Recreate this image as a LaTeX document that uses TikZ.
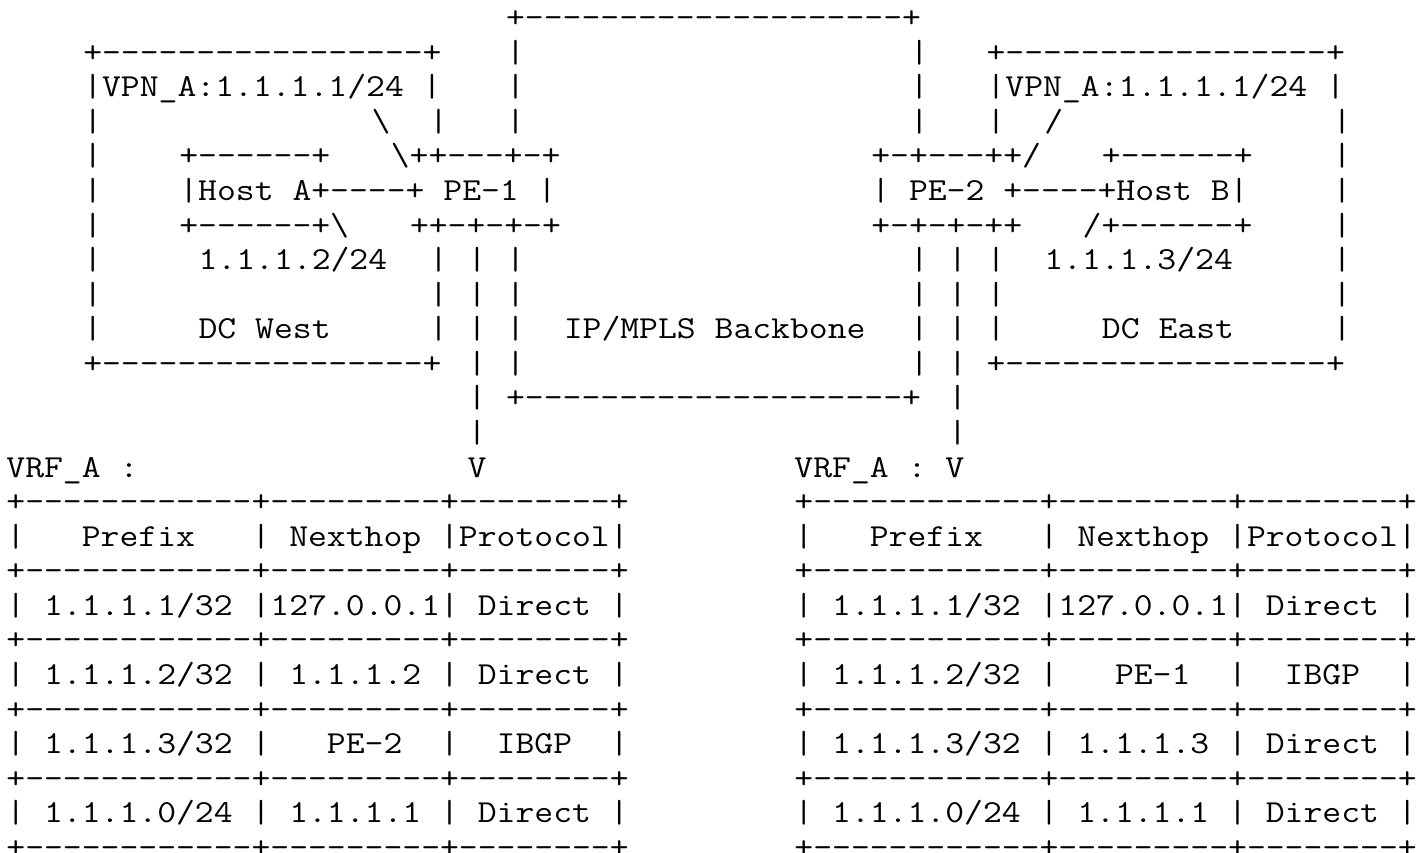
\documentclass[tikz,border=0pt]{standalone}
\usepackage{fontspec}
\usepackage{graphicx}
\frenchspacing
\tikzset{
  txt/.style={anchor=base west, inner sep=0pt, outer sep=0pt, font=\fontsize{16.02pt}{17pt}\ttfamily, text=black}
}
\newcommand\asc[3]{\node[txt] (r#1c#2) at ({6.4+19.22*#2},{27.6+34.57*#1}) {\scalebox{1.142857}[1]{#3}};}
\begin{document}
\begin{tikzpicture}[x=0.5pt,y=-0.5pt]
\useasboundingbox (0,0) rectangle (1427,852);
\fill[white] (0,0) rectangle (1427,852);
% row 0
\asc{0}{26}{+--------------------+}
% row 1
\asc{1}{4}{+-----------------+}
\asc{1}{26}{|}
\asc{1}{47}{|}
\asc{1}{51}{+-----------------+}
% row 2
\asc{2}{4}{|VPN\_A:1.1.1.1/24~|}
\asc{2}{26}{|}
\asc{2}{47}{|}
\asc{2}{51}{|VPN\_A:1.1.1.1/24~|}
% row 3
\asc{3}{4}{|}
\asc{3}{19}{\textbackslash}
\asc{3}{22}{|}
\asc{3}{26}{|}
\asc{3}{47}{|}
\asc{3}{51}{|}
\asc{3}{54}{/}
\asc{3}{69}{|}
% row 4
\asc{4}{4}{|}
\asc{4}{9}{+------+}
\asc{4}{20}{\textbackslash++---+-+}
\asc{4}{45}{+-+---++/}
\asc{4}{57}{+------+}
\asc{4}{69}{|}
% row 5
\asc{5}{4}{|}
\asc{5}{9}{|Host~A+----+~PE-1~|}
\asc{5}{45}{|~PE-2~+----+Host~B|}
\asc{5}{69}{|}
% row 6
\asc{6}{4}{|}
\asc{6}{9}{+------+\textbackslash}
\asc{6}{21}{++-+-+-+}
\asc{6}{45}{+-+-+-++}
\asc{6}{56}{/+------+}
\asc{6}{69}{|}
% row 7
\asc{7}{4}{|}
\asc{7}{10}{1.1.1.2/24}
\asc{7}{22}{|}
\asc{7}{24}{|}
\asc{7}{26}{|}
\asc{7}{47}{|}
\asc{7}{49}{|}
\asc{7}{51}{|}
\asc{7}{54}{1.1.1.3/24}
\asc{7}{69}{|}
% row 8
\asc{8}{4}{|}
\asc{8}{22}{|}
\asc{8}{24}{|}
\asc{8}{26}{|}
\asc{8}{47}{|}
\asc{8}{49}{|}
\asc{8}{51}{|}
\asc{8}{69}{|}
% row 9
\asc{9}{4}{|}
\asc{9}{10}{DC~West}
\asc{9}{22}{|}
\asc{9}{24}{|}
\asc{9}{26}{|}
\asc{9}{29}{IP/MPLS~Backbone}
\asc{9}{47}{|}
\asc{9}{49}{|}
\asc{9}{51}{|}
\asc{9}{57}{DC~East}
\asc{9}{69}{|}
% row 10
\asc{10}{4}{+-----------------+}
\asc{10}{24}{|}
\asc{10}{26}{|}
\asc{10}{47}{|}
\asc{10}{49}{|}
\asc{10}{51}{+-----------------+}
% row 11
\asc{11}{24}{|}
\asc{11}{26}{+--------------------+}
\asc{11}{49}{|}
% row 12
\asc{12}{24}{|}
\asc{12}{49}{|}
% row 13
\asc{13}{0}{VRF\_A~:}
\asc{13}{24}{V}
\asc{13}{41}{VRF\_A~:~V}
% left table
\asc{14}{0}{+------------+---------+--------+}
\asc{15}{0}{|~~~Prefix~~~|~Nexthop~|Protocol|}
\asc{16}{0}{+------------+---------+--------+}
\asc{17}{0}{|~1.1.1.1/32~|127.0.0.1|~Direct~|}
\asc{18}{0}{+------------+---------+--------+}
\asc{19}{0}{|~1.1.1.2/32~|~1.1.1.2~|~Direct~|}
\asc{20}{0}{+------------+---------+--------+}
\asc{21}{0}{|~1.1.1.3/32~|~~~PE-2~~|~~IBGP~~|}
\asc{22}{0}{+------------+---------+--------+}
\asc{23}{0}{|~1.1.1.0/24~|~1.1.1.1~|~Direct~|}
\asc{24}{0}{+------------+---------+--------+}
% right table
\asc{14}{41}{+------------+---------+--------+}
\asc{15}{41}{|~~~Prefix~~~|~Nexthop~|Protocol|}
\asc{16}{41}{+------------+---------+--------+}
\asc{17}{41}{|~1.1.1.1/32~|127.0.0.1|~Direct~|}
\asc{18}{41}{+------------+---------+--------+}
\asc{19}{41}{|~1.1.1.2/32~|~~~PE-1~~|~~IBGP~~|}
\asc{20}{41}{+------------+---------+--------+}
\asc{21}{41}{|~1.1.1.3/32~|~1.1.1.3~|~Direct~|}
\asc{22}{41}{+------------+---------+--------+}
\asc{23}{41}{|~1.1.1.0/24~|~1.1.1.1~|~Direct~|}
\asc{24}{41}{+------------+---------+--------+}
\end{tikzpicture}
\end{document}
